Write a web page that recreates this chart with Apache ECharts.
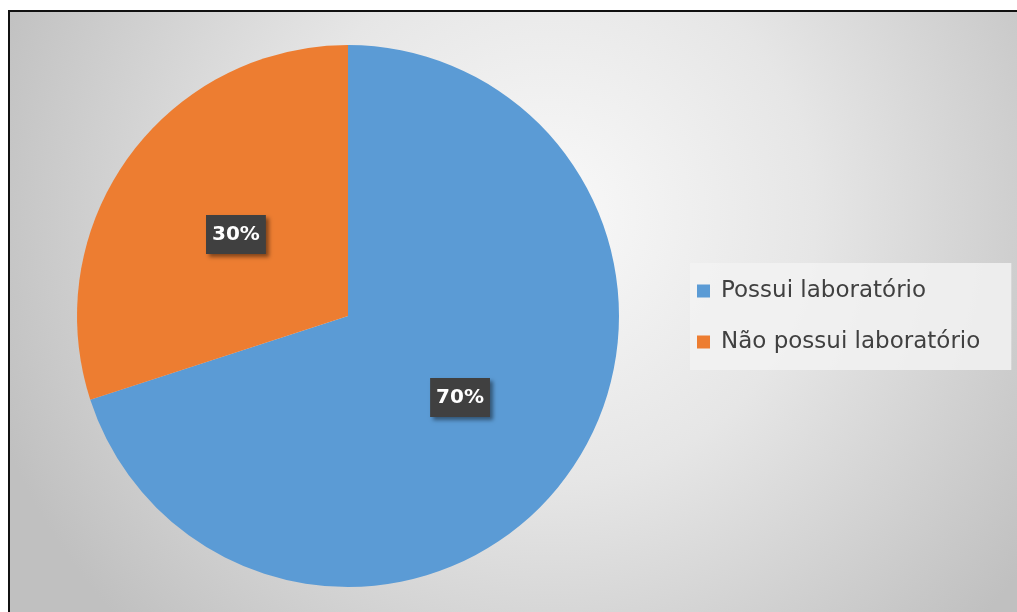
<!DOCTYPE html>
<html>
<head>
<meta charset="utf-8">
<script src="https://cdn.jsdelivr.net/npm/echarts@6/dist/echarts.min.js"></script>
<style>
  html, body { margin: 0; padding: 0; background: #fff; }
  #chart { width: 1017px; height: 612px; }
</style>
</head>
<body>
<div id="chart"></div>
<script>
// Share of schools with and without a science laboratory
const categories = ['Possui laboratório', 'Não possui laboratório'];
const shares = [70, 30];
const colors = ['#5b9bd5', '#ed7d31'];

const chart = echarts.init(document.getElementById('chart'));

const pieData = categories.map((name, i) => ({
  name: name,
  value: shares[i],
  itemStyle: { color: colors[i] }
}));

chart.setOption({
  animation: false,
  graphic: [{
    type: 'rect',
    z: -10,
    shape: { x: 9, y: 11, width: 1040, height: 640 },
    style: {
      fill: new echarts.graphic.RadialGradient(0.52, 0.32, 0.92, [
        { offset: 0, color: '#f9f9f9' },
        { offset: 0.45, color: '#e6e6e6' },
        { offset: 1, color: '#c0c0c0' }
      ]),
      stroke: '#111',
      lineWidth: 2
    }
  }],
  legend: {
    orient: 'vertical',
    left: 690,
    top: 263,
    backgroundColor: 'rgba(242,242,242,0.85)',
    padding: [16, 31, 16, 7],
    itemGap: 27,
    icon: 'rect',
    itemWidth: 13,
    itemHeight: 13,
    textStyle: {
      fontFamily: 'DejaVu Sans',
      fontSize: 23,
      lineHeight: 24,
      color: '#404040',
      padding: [0, 0, 0, 6]
    },
    data: categories
  },
  series: [{
    type: 'pie',
    center: [348, 316],
    radius: 271,
    startAngle: 90,
    clockwise: true,
    data: pieData,
    label: {
      position: 'inside',
      formatter: '{c}%',
      color: '#fff',
      fontFamily: 'DejaVu Sans',
      fontWeight: 'bold',
      fontSize: 20,
      backgroundColor: '#404040',
      padding: [10, 6, 9, 6],
      shadowColor: 'rgba(0,0,0,0.45)',
      shadowBlur: 4,
      shadowOffsetX: 3,
      shadowOffsetY: 3
    },
    labelLine: { show: false },
    emphasis: { disabled: true }
  }]
});
</script>
</body>
</html>
